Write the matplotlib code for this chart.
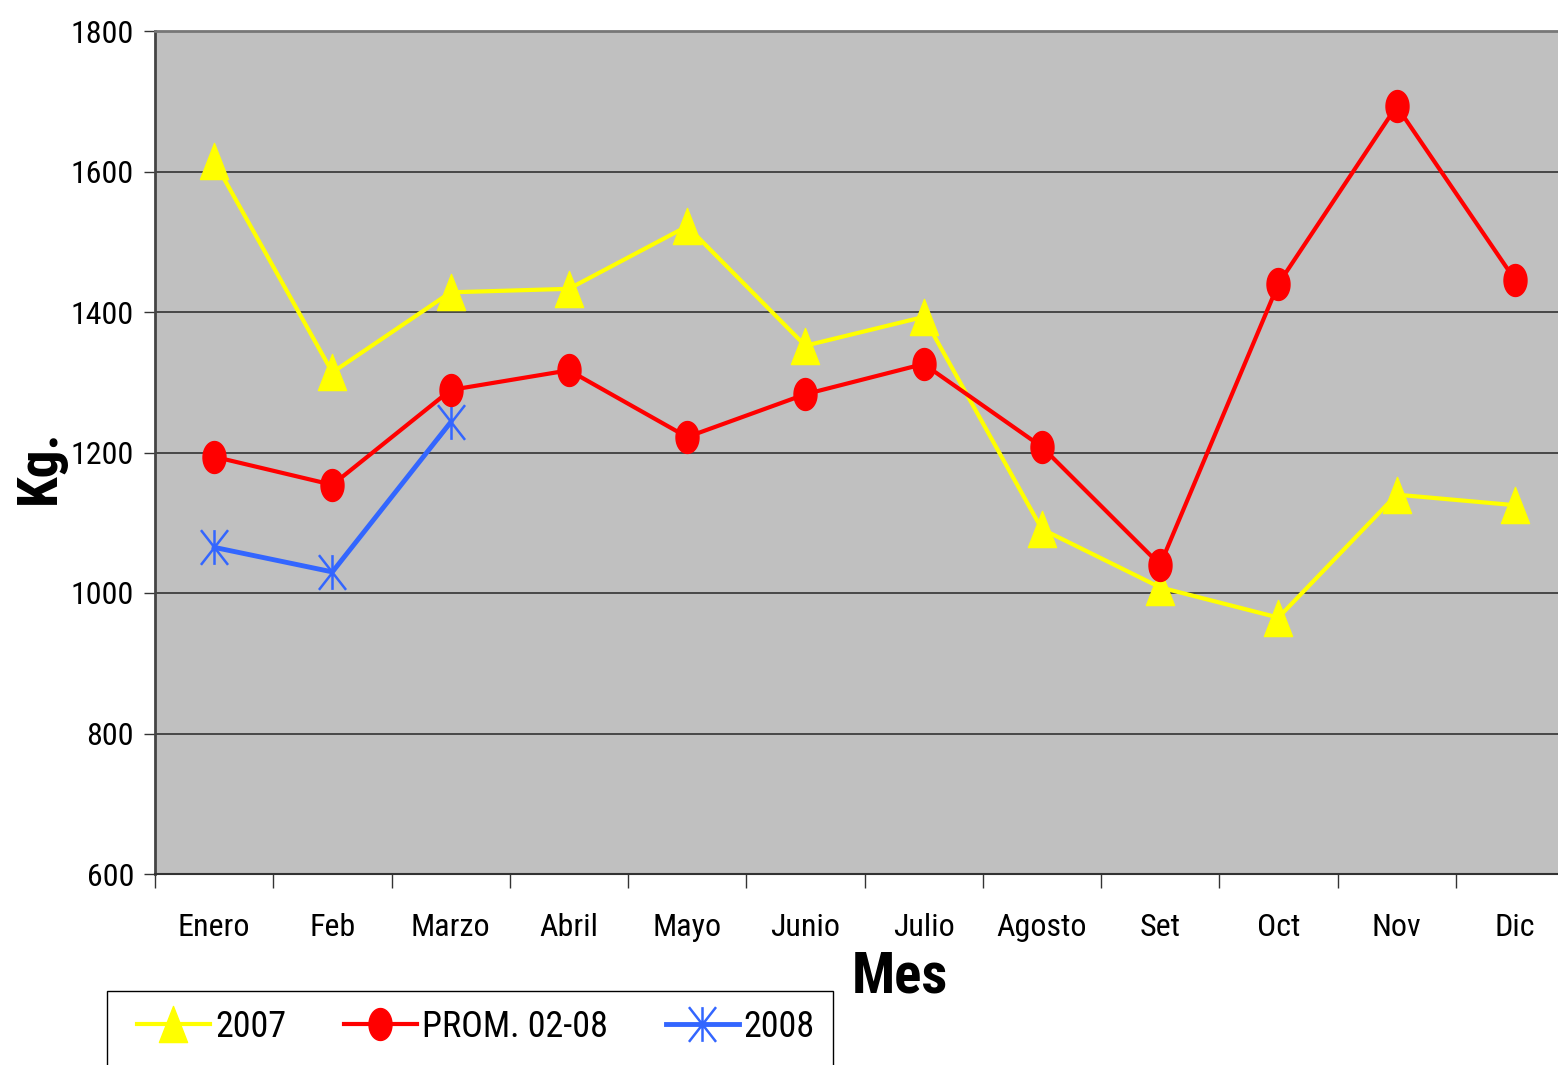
import numpy as np
import matplotlib
matplotlib.use("Agg")
from matplotlib import pyplot as plt
from matplotlib.path import Path
from matplotlib.patches import Rectangle
from matplotlib import font_manager as fm

# pick a narrow sans font (with a bold face) if one is around
fonts = fm.fontManager.ttflist
prefs = ['Liberation Sans Narrow', 'Arial Narrow', 'Roboto Condensed', 'Archivo Narrow',
         'PT Sans Narrow', 'Encode Sans Condensed', 'Pragati Narrow']
narrow = 'DejaVu Sans'
for n in prefs:
    ws = [f.weight for f in fonts if f.name == n]
    if ws and any((w if isinstance(w, int) else 400) >= 700 or w == 'bold' for w in ws):
        narrow = n
        break
plt.rcParams['font.family'] = [narrow, 'DejaVu Sans']

meses = ['Enero', 'Feb', 'Marzo', 'Abril', 'Mayo', 'Junio', 'Julio',
         'Agosto', 'Set', 'Oct', 'Nov', 'Dic']
y2007 = [1615, 1314, 1428, 1433, 1522, 1352, 1393, 1091, 1008, 965, 1140, 1125]
prom = [1194, 1154, 1289, 1317, 1222, 1283, 1326, 1208, 1040, 1440, 1693, 1446]
y2008 = [1065, 1030, 1243]

# marker shapes (stretched a bit taller like the original)
tri = Path([(-0.39, -0.5), (0.39, -0.5), (0, 0.5), (-0.39, -0.5)],
           [Path.MOVETO, Path.LINETO, Path.LINETO, Path.CLOSEPOLY])
t = np.linspace(0, 2*np.pi, 60)
ell = Path(np.column_stack([0.36*np.cos(t), 0.5*np.sin(t)]))
star = Path([(0, -0.5), (0, 0.5), (-0.39, -0.5), (0.39, 0.5), (-0.39, 0.5), (0.39, -0.5)],
            [Path.MOVETO, Path.LINETO, Path.MOVETO, Path.LINETO, Path.MOVETO, Path.LINETO])

fig = plt.figure(figsize=(15.58, 10.65), dpi=100)
ax = fig.add_axes([155/1558, 1-874/1065, 1419/1558, 843/1065])
ax.set_facecolor('#C0C0C0')

x = np.arange(len(meses))
ax.plot(x, y2007, color='#FFFF00', lw=3, marker=tri, ms=26, mec='#FFFF00',
        mfc='#FFFF00', label='2007', zorder=3)
ax.plot(x[:len(y2008)], y2008, color='#3366FF', lw=3.5, marker=star, ms=25,
        mec='#3366FF', mfc='none', mew=1.8, label='2008', zorder=4)
ax.plot(x, prom, color='#FF0000', lw=3, marker=ell, ms=23, mec='#FF0000',
        mfc='#FF0000', label='PROM. 02-08', zorder=5)

ax.set_ylim(600, 1800)
ax.set_yticks(np.arange(600, 1801, 200))
ax.set_xlim(-0.5, 11.5)
ax.set_xticks(x)
ax.set_xticklabels(meses)
ax.set_xticks(np.arange(-0.5, 12, 1), minor=True)
ax.tick_params(axis='x', which='major', length=0, pad=28, labelsize=23)
ax.tick_params(axis='x', which='minor', length=10, width=1, color='#333333')
ax.tick_params(axis='y', length=8, width=1, pad=7, labelsize=23, color='#333333')

ax.grid(axis='y', color='#333333', lw=1.2)
ax.set_axisbelow(True)
ax.spines['right'].set_visible(False)
ax.spines['left'].set_color('#444444')
ax.spines['left'].set_linewidth(2)
ax.spines['bottom'].set_color('#333333')
ax.spines['bottom'].set_linewidth(1.5)
ax.spines['top'].set_color('#777777')
ax.spines['top'].set_linewidth(2)

fig.text(900/1558, 1-977/1065, 'Mes', fontsize=41, fontweight='bold',
         ha='center', va='center')
fig.text(40/1558, 1-467/1065, 'Kg.', fontsize=40, fontweight='bold',
         ha='center', va='center', rotation=90)

# legend box drawn by hand, entries without frame
fig.patches.append(Rectangle((107/1558, -0.01), (833-107)/1558, (1065-991)/1065 + 0.01,
                             transform=fig.transFigure, fill=False,
                             edgecolor='black', lw=1))
h, l = ax.get_legend_handles_labels()
order = [0, 2, 1]
leg = fig.legend([h[i] for i in order], [l[i] for i in order], ncol=3,
                 loc='center left', bbox_to_anchor=(137/1558, 1-1027/1065),
                 fontsize=26, frameon=False,
                 handlelength=2.02, handletextpad=0.14, columnspacing=1.6,
                 borderpad=0, borderaxespad=0)

fig.savefig('out.png', dpi=100)
